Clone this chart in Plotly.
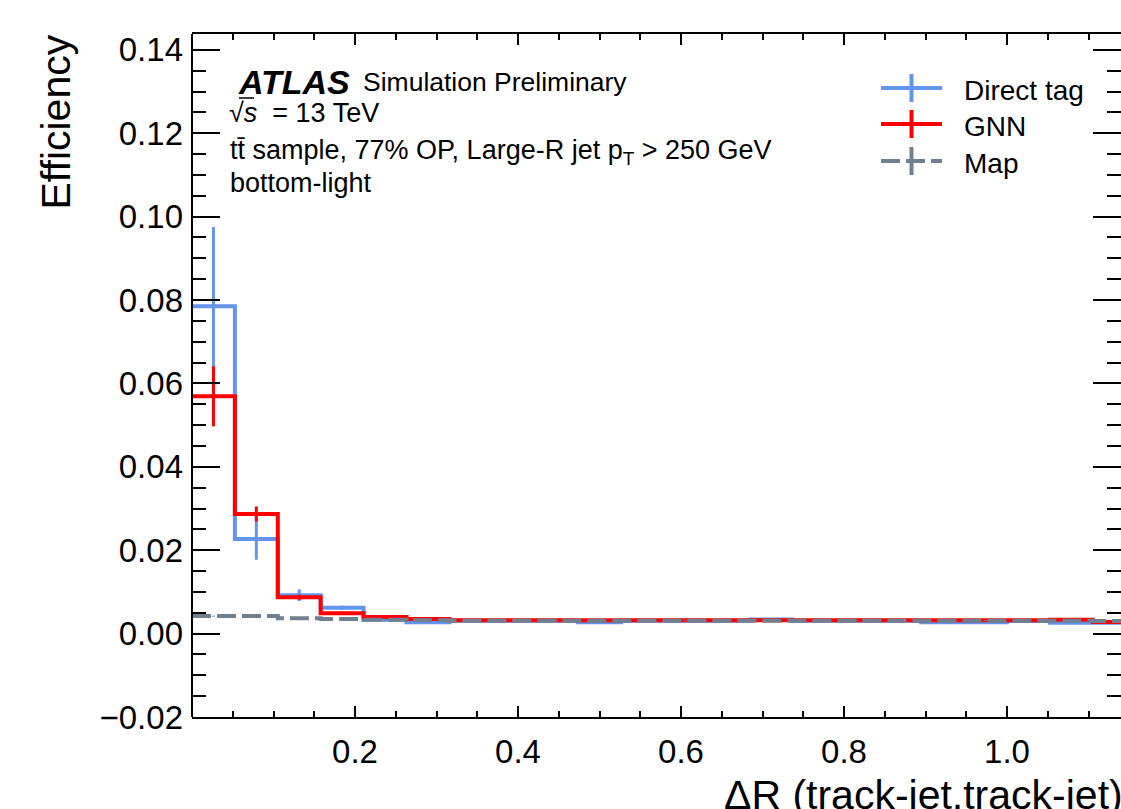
import numpy as np
import plotly.graph_objects as go

# ---- data ----
n_bins = 22
bin_edges = np.arange(n_bins + 1) / 19.0  # bin width 1/19

direct_tag = [0.0785, 0.0227, 0.0092, 0.0062, 0.0033, 0.0027, 0.0031, 0.0031, 0.0031, 0.0027, 0.0031,
              0.0031, 0.0031, 0.0034, 0.0031, 0.0031, 0.0031, 0.0027, 0.0027, 0.0030, 0.0026, 0.0026]
direct_tag_err = [0.0190, 0.0050, 0.0014, 0.0005, 0.0004, 0.0003, 0.0003, 0.0003, 0.0003, 0.0003, 0.0003,
                  0.0003, 0.0003, 0.0003, 0.0003, 0.0003, 0.0003, 0.0003, 0.0003, 0.0003, 0.0003, 0.0003]
gnn = [0.0569, 0.0287, 0.0087, 0.0049, 0.0040, 0.0035, 0.0032, 0.0032, 0.0032, 0.0032, 0.0032,
       0.0032, 0.0032, 0.0032, 0.0032, 0.0032, 0.0032, 0.0032, 0.0032, 0.0032, 0.0033, 0.0028]
gnn_err = [0.0072, 0.0018, 0.0006, 0.0004, 0.0002, 0.0002, 0.0002, 0.0002, 0.0002, 0.0002, 0.0002,
           0.0002, 0.0002, 0.0002, 0.0002, 0.0002, 0.0002, 0.0002, 0.0002, 0.0002, 0.0002, 0.0002]
map_eff = [0.0042, 0.0042, 0.0037, 0.0035, 0.0033, 0.0032, 0.0031, 0.0031, 0.0031, 0.0031, 0.0031,
           0.0031, 0.0031, 0.0031, 0.0031, 0.0031, 0.0031, 0.0031, 0.0031, 0.0031, 0.0031, 0.0030]
map_err = [0.0001] * n_bins

y_ticks = [-0.02, 0.00, 0.02, 0.04, 0.06, 0.08, 0.10, 0.12, 0.14]
x_ticks = [0.2, 0.4, 0.6, 0.8, 1.0]

BLUE = "#6495ED"
RED = "#FF0000"
GREY = "#708090"
FONT = "Liberation Sans"

centers = 0.5 * (bin_edges[:-1] + bin_edges[1:])
fig = go.Figure()


def add_hist(vals, errs, color, dash=None, width=4):
    fig.add_trace(go.Scatter(
        x=bin_edges, y=list(vals) + [vals[-1]], mode="lines",
        line=dict(color=color, width=width, shape="hv", dash=dash),
        showlegend=False, hoverinfo="skip"))
    fig.add_trace(go.Scatter(
        x=centers, y=vals, mode="markers",
        marker=dict(size=1, color="rgba(0,0,0,0)"),
        error_y=dict(type="data", array=errs, visible=True, color=color,
                     thickness=3, width=0),
        showlegend=False, hoverinfo="skip"))


add_hist(direct_tag, direct_tag_err, BLUE)
add_hist(gnn, gnn_err, RED)
add_hist(map_eff, map_err, GREY, dash="19px,6px")

W, H = 1121, 809
L, R, T, B = 192, 0, 34, 92
pw, ph = W - L - R, H - T - B


def px(x):
    return (x - L) / pw


def py(y):
    return (H - B - y) / ph


fig.update_layout(
    width=W, height=H,
    margin=dict(l=L, r=R, t=T, b=B),
    paper_bgcolor="white", plot_bgcolor="white",
    font=dict(family=FONT, color="black"),
    showlegend=False,
    xaxis=dict(range=[0, (W - L) / 815.0], tickvals=x_ticks, tickformat=".1f",
               ticks="inside", ticklen=11, tickwidth=1.5, tickcolor="black",
               showline=True, linecolor="black", linewidth=2, mirror="ticks",
               showgrid=False, zeroline=False,
               tickfont=dict(size=33, family=FONT), ticklabelstandoff=4,
               minor=dict(dtick=0.05, tick0=0, ticks="inside", ticklen=6,
                          tickcolor="black", tickwidth=1.5, showgrid=False)),
    yaxis=dict(range=[-0.02, 0.1438], tickvals=y_ticks, tickformat=".2f",
               ticks="inside", ticklen=28, tickwidth=1.5, tickcolor="black",
               showline=False, mirror="ticks",
               showgrid=False, zeroline=False,
               tickfont=dict(size=33, family=FONT), ticklabelstandoff=8,
               minor=dict(dtick=0.005, tick0=0, ticks="inside", ticklen=14,
                          tickcolor="black", tickwidth=1.5, showgrid=False)),
)

shapes = [dict(type="line", xref="paper", yref="paper", x0=0, x1=0, y0=0, y1=1,
               line=dict(color="black", width=2))]

# legend drawn manually
leg = [("Direct tag", BLUE, None, 88), ("GNN", RED, None, 124), ("Map", GREY, "19px,6px", 161)]
annotations = []
for name, col, dash, yy in leg:
    shapes.append(dict(type="line", xref="paper", yref="paper", x0=px(881), x1=px(942),
                       y0=py(yy), y1=py(yy), line=dict(color=col, width=4, dash=dash)))
    shapes.append(dict(type="line", xref="paper", yref="paper", x0=px(911.5), x1=px(911.5),
                       y0=py(yy - 14), y1=py(yy + 14), line=dict(color=col, width=4)))
    annotations.append(dict(text=name, xref="paper", yref="paper", x=px(962), y=py(yy + 2),
                            xanchor="left", yanchor="middle", showarrow=False,
                            font=dict(size=28, family=FONT, color="black")))

# overline of the sqrt(s)
shapes.append(dict(type="line", xref="paper", yref="paper", x0=px(239), x1=px(254),
                   y0=py(98), y1=py(98), line=dict(color="black", width=1.5)))

# ATLAS label block
annotations += [
    dict(text="<b><i>ATLAS</i></b>", x=px(236), y=py(82), xanchor="left", yanchor="middle",
         font=dict(size=34)),
    dict(text="Simulation Preliminary", x=px(361), y=py(82), xanchor="left", yanchor="middle",
         font=dict(size=26.5)),
    dict(text="√<i>s</i>  = 13 TeV",
         x=px(227), y=py(113), xanchor="left", yanchor="middle", font=dict(size=27)),
    dict(text="tt\u0304 sample, 77% OP, Large-R jet p<sub>T</sub> > 250 GeV",
         x=px(228), y=py(152), xanchor="left", yanchor="middle", font=dict(size=27)),
    dict(text="bottom-light", x=px(228), y=py(183), xanchor="left", yanchor="middle",
         font=dict(size=27)),
    # axis titles
    dict(text="Efficiency", x=px(55), y=py(33), xanchor="center", yanchor="top",
         textangle=-90, font=dict(size=41)),
    dict(text="ΔR (track-jet,track-jet)", x=px(722), y=py(770), xanchor="left", yanchor="top",
         font=dict(size=41)),
]
for a in annotations:
    a.setdefault("xref", "paper")
    a.setdefault("yref", "paper")
    a.setdefault("showarrow", False)
    a["font"] = dict(family=FONT, color="black", **{k: v for k, v in a["font"].items() if k not in ("family", "color")})

fig.update_layout(shapes=shapes, annotations=annotations)

fig.write_html("out.html", config={"displayModeBar": False},
               post_script="document.body.style.margin='0';document.body.style.overflow='hidden';")
